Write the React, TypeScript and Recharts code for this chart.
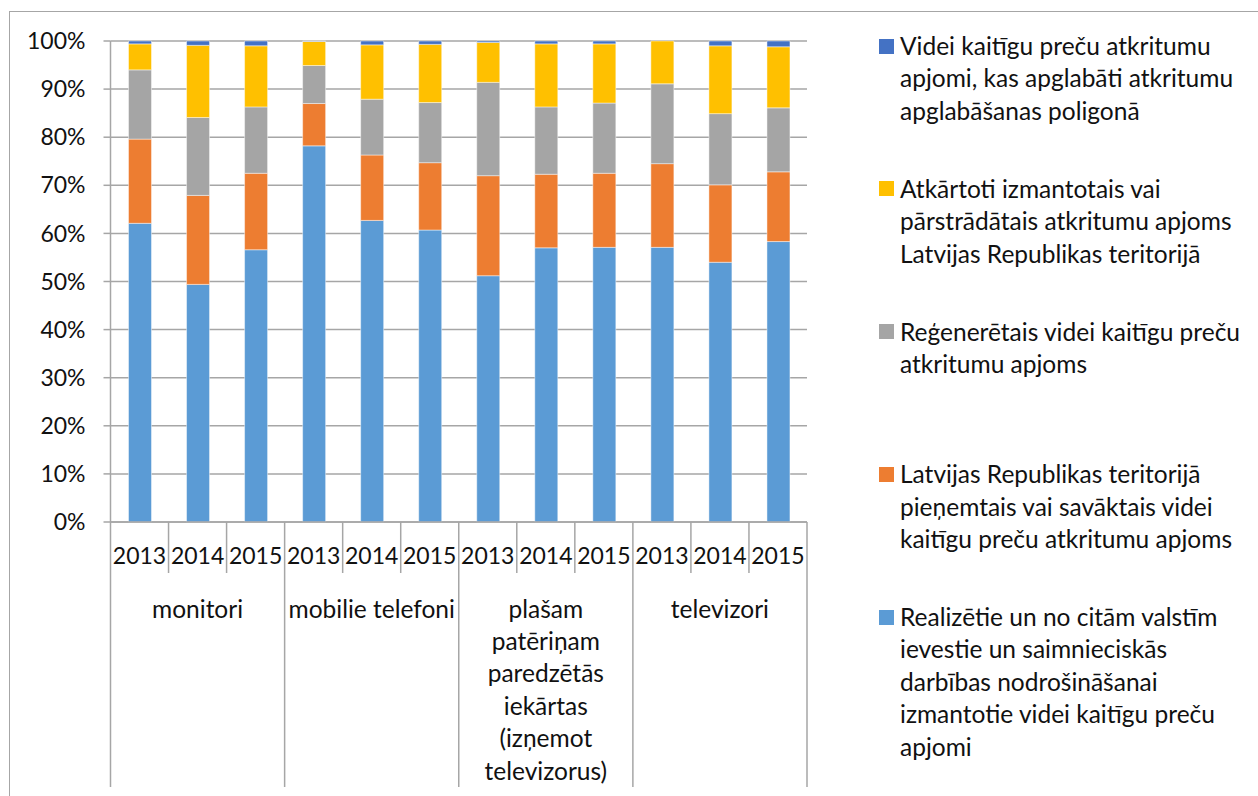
import { BarChart, Bar, XAxis, YAxis, CartesianGrid, Legend } from "recharts";

// kategorijas un gadi
const categories = [
  ["monitori"],
  ["mobilie telefoni"],
  ["plašam", "patēriņam", "paredzētās", "iekārtas", "(izņemot", "televizorus)"],
  ["televizori"],
];
const years = ["2013", "2014", "2015"];

// sērijas (procenti, no apakšas uz augšu)
const realizetie = [62.1, 49.4, 56.6, 78.2, 62.7, 60.7, 51.2, 57.0, 57.1, 57.1, 54.0, 58.3];
const pienemtais = [17.5, 18.5, 15.9, 8.8, 13.6, 14.0, 20.8, 15.3, 15.4, 17.4, 16.1, 14.5];
const regeneretais = [14.4, 16.2, 13.8, 7.9, 11.6, 12.5, 19.4, 14.0, 14.6, 16.6, 14.8, 13.3];
const atkartoti = [5.4, 15.0, 12.7, 5.0, 11.3, 12.1, 8.3, 13.1, 12.3, 8.9, 14.1, 12.7];
const apglabati = [0.6, 0.9, 1.0, 0.1, 0.8, 0.7, 0.3, 0.6, 0.6, 0.0, 1.0, 1.2];

const series = [
  {
    key: "realizetie",
    values: realizetie,
    color: "#5B9BD5",
    name: "Realizētie un no citām valstīm\nievestie un saimnieciskās\ndarbības nodrošināšanai\nizmantotie videi kaitīgu preču\napjomi",
  },
  {
    key: "pienemtais",
    values: pienemtais,
    color: "#ED7D31",
    name: "Latvijas Republikas teritorijā\npieņemtais vai savāktais videi\nkaitīgu preču atkritumu apjoms",
  },
  {
    key: "regeneretais",
    values: regeneretais,
    color: "#A5A5A5",
    name: "Reģenerētais videi kaitīgu preču\natkritumu apjoms",
  },
  {
    key: "atkartoti",
    values: atkartoti,
    color: "#FFC000",
    name: "Atkārtoti izmantotais vai\npārstrādātais atkritumu apjoms\nLatvijas Republikas teritorijā",
  },
  {
    key: "apglabati",
    values: apglabati,
    color: "#4472C4",
    name: "Videi kaitīgu preču atkritumu\napjomi, kas apglabāti atkritumu\napglabāšanas poligonā",
  },
];

const data = categories.flatMap((cat, ci) =>
  years.map((year, yi) => {
    const row: Record<string, string | number> = { id: `${ci}-${year}`, year, cat: ci };
    series.forEach((s) => {
      row[s.key] = s.values[ci * years.length + yi];
    });
    return row;
  })
);

const FONT = "Lato, 'Open Sans', sans-serif";
const AXIS = "#a6a6a6";
const LINE_H = 32.4;
const NUM_SIZE = 23;
const TEXT_SIZE = 24.5;

// gadi + kategoriju nosaukumi zem ass
function YearTick(props: any) {
  const { x, y, index, width } = props;
  const band = width / data.length;
  const left = x - band / 2;
  const isGroupStart = index % years.length === 0;
  const isMid = index % years.length === 1;
  const isLast = index === data.length - 1;
  const cat = categories[Math.floor(index / years.length)];
  return (
    <g>
      <text
        x={x}
        y={y + 33}
        textAnchor="middle"
        dominantBaseline="central"
        fontFamily={FONT}
        fontSize={NUM_SIZE}
        fill="#111"
      >
        {data[index].year}
      </text>
      <line
        x1={left}
        x2={left}
        y1={y}
        y2={y + (isGroupStart ? 265 : 51)}
        stroke={AXIS}
        strokeWidth={1.5}
      />
      {isLast && (
        <line x1={x + band / 2} x2={x + band / 2} y1={y} y2={y + 265} stroke={AXIS} strokeWidth={1.5} />
      )}
      {isMid && (
        <text textAnchor="middle" fontFamily={FONT} fontSize={TEXT_SIZE} fill="#111">
          {cat.map((line, i) => (
            <tspan key={i} x={x} y={y + 86 + i * LINE_H} dominantBaseline="central">
              {line}
            </tspan>
          ))}
        </text>
      )}
    </g>
  );
}

// leģenda: augšējā sērija pirmā
function LegendContent() {
  const items = [...series].reverse();
  return (
    <div style={{ fontFamily: FONT, fontSize: TEXT_SIZE, color: "#111" }}>
      {items.map((s) => (
        <div key={s.key} style={{ height: 142.75, display: "flex", alignItems: "flex-start" }}>
          <div
            style={{
              width: 15,
              height: 15,
              background: s.color,
              marginTop: (LINE_H - 15) / 2,
              marginRight: 6,
              flexShrink: 0,
            }}
          />
          <div style={{ whiteSpace: "pre", lineHeight: `${LINE_H}px` }}>{s.name}</div>
        </div>
      ))}
    </div>
  );
}

export default function App() {
  return (
    <div style={{ position: "absolute", left: 0, top: 0, width: 1258, height: 796, background: "#fff", overflow: "hidden" }}>
      <div
        style={{
          position: "absolute",
          left: 9,
          top: 11,
          width: 1300,
          height: 900,
          borderLeft: `1.5px solid ${AXIS}`,
          borderTop: `1.5px solid ${AXIS}`,
        }}
      />
      <div style={{ position: "absolute", left: 0, top: 0 }}>
        <BarChart
          width={1258}
          height={796}
          data={data}
          stackOffset="expand"
          barSize={23}
          margin={{ top: 41, right: 451, bottom: 0, left: 0 }}
        >
          <CartesianGrid vertical={false} stroke={AXIS} strokeWidth={1.5} />
          <XAxis
            dataKey="id"
            height={274}
            interval={0}
            tickLine={false}
            tickSize={0}
            tickMargin={0}
            axisLine={{ stroke: AXIS, strokeWidth: 1.5 }}
            tick={<YearTick />}
          />
          <YAxis
            width={110.5}
            domain={[0, 1]}
            tickCount={11}
            tickSize={7}
            tickMargin={18}
            tickFormatter={(v: number) => `${Math.round(v * 100)}%`}
            axisLine={{ stroke: AXIS, strokeWidth: 1.5 }}
            tickLine={{ stroke: AXIS, strokeWidth: 1.5 }}
            tick={{ fontFamily: FONT, fontSize: NUM_SIZE, fill: "#111" }}
          />
          <Legend
            layout="vertical"
            align="center"
            verticalAlign="middle"
            content={<LegendContent />}
            wrapperStyle={{ left: 879, top: 30, width: 379 }}
          />
          {series.map((s) => (
            <Bar
              key={s.key}
              dataKey={s.key}
              name={s.name}
              stackId="a"
              fill={s.color}
              stroke="#ffffff"
              strokeOpacity={0.6}
              strokeWidth={0.75}
              isAnimationActive={false}
            />
          ))}
        </BarChart>
      </div>
    </div>
  );
}
